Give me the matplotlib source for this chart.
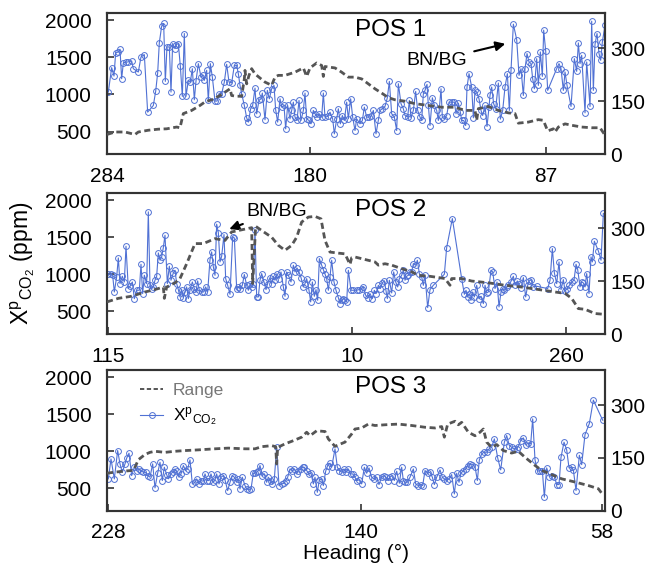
import matplotlib
matplotlib.use('Agg')
import matplotlib.pyplot as plt
from matplotlib.lines import Line2D

plt.rcParams['font.family'] = ['Liberation Sans', 'DejaVu Sans']
plt.rcParams['mathtext.fontset'] = 'custom'
plt.rcParams['mathtext.rm'] = 'Liberation Sans'
plt.rcParams['mathtext.it'] = 'Liberation Sans:italic'

# ---------------- data (along-track sample position, values) ----------------
# POS 1
p1_pos = [10, 20, 27, 32, 40, 45, 50, 55, 63, 68, 80, 85, 100, 108, 118, 128, 145, 152, 158, 163,
          170, 176, 181, 186, 193, 198, 203, 210, 213, 220, 226, 232, 238, 243, 250, 256, 262, 268, 273, 280,
          288, 293, 298, 305, 310, 316, 322, 330, 336, 342, 350, 358, 365, 372, 380, 388, 395, 400, 405, 410,
          418, 425, 430, 437, 443, 450, 455, 462, 468, 472, 480, 487, 493, 500, 507, 512, 518, 525, 530, 537,
          542, 548, 555, 560, 565, 570, 576, 582, 588, 595, 600, 605, 612, 618, 625, 630, 637, 643, 650, 655,
          660, 668, 675, 683, 688, 695, 700, 706, 712, 718, 725, 730, 737, 743, 750,
          755, 765, 772, 778, 785, 792, 798, 805, 813, 820, 825, 832, 840, 847, 853, 860, 868, 875, 880, 888,
          895, 900, 908, 913, 918, 925, 932, 938, 945, 950, 955, 960, 966, 970, 975, 982, 988, 995, 1000, 1008,
          1012, 1018, 1025, 1032, 1040, 1048, 1053, 1060, 1066, 1070, 1076, 1082, 1086, 1092, 1100, 1105, 1110, 1115, 1122, 1128,
          1133, 1140, 1146, 1152, 1155, 1160, 1166, 1172, 1180, 1186, 1193, 1200, 1207, 1213, 1218, 1225, 1235, 1242, 1248, 1255,
          1260, 1266, 1272, 1278, 1283, 1288, 1295, 1300, 1306, 1312, 1316, 1322, 1328, 1355, 1362, 1368, 1375, 1380, 1386, 1398,
          1408, 1415, 1420, 1425, 1430, 1440, 1445, 1455, 1460, 1465, 1470, 1476, 1482, 1487, 1492, 1500]
p1_co2 = [1032, 1361, 1248, 1559, 1572, 1608, 1212, 1424, 1437, 1437, 1451, 1347, 1302, 1505, 1536, 762, 852, 1041, 1289, 1698,
          1919, 1955, 1176, 1640, 1640, 1032, 1685, 1617, 1671, 1685, 1383, 974, 1820, 974, 1190, 1167, 1347, 929, 1181, 1415,
          1235, 1257, 1190, 1325, 920, 1415, 1235, 911, 911, 1010, 1010, 1167, 1406, 1167, 1154, 1392, 1392, 1280, 1122, 1010,
          852, 686, 628, 808, 852, 1086, 740, 920, 942, 1019, 659, 1055, 942, 1077, 1122, 794, 628, 942, 830, 852,
          537, 852, 672, 785, 897, 695, 650, 920, 650, 785, 1019, 672, 650, 605, 785, 740, 695, 740, 695, 1019,
          695, 704, 762, 672, 470, 672, 808, 605, 717, 650, 897, 672, 942, 695, 515,
          672, 605, 650, 830, 695, 695, 704, 785, 470, 650, 785, 808, 839, 956, 1176, 740, 695, 515, 1145, 875,
          808, 717, 695, 920, 686, 785, 1041, 785, 695, 650, 1010, 1055, 1136, 852, 582, 956, 852, 785, 650, 1077,
          695, 672, 717, 897, 897, 897, 740, 884, 762, 650, 650, 582, 1100, 1280, 1100, 686, 1055, 1032, 942, 785,
          717, 852, 569, 830, 987, 1100, 875, 808, 1154, 668, 785, 1100, 1280, 785, 1325, 1946, 1739, 1257, 1347, 987,
          1347, 1550, 1437, 1415, 1212, 1077, 1482, 1122, 1572, 1244, 1865, 1586, 1055, 1347, 1415, 1347, 1055, 1302, 1122, 839,
          1482, 1311, 1694, 1415, 1527, 753, 1437, 839, 1986, 1055, 1676, 1820, 1550, 1460, 1707, 1932]
p1_rng_pos = [6, 30, 60, 90, 100, 130, 160, 185, 215, 225, 235, 260, 285, 300, 320, 345, 375, 380, 395, 410,
              418, 420, 425, 432, 440, 450, 480, 500, 510, 520, 540, 570, 595, 605, 615, 635, 650, 655, 660, 690,
              710, 730, 750, 770, 790, 810, 830, 850, 870, 900, 930, 970, 1010, 1050, 1080, 1110, 1115, 1120, 1150, 1180,
              1210, 1230, 1240, 1270, 1300, 1315, 1328, 1345, 1350, 1360, 1380, 1400, 1430, 1460, 1485, 1500]
p1_rng = [56, 63, 63, 56, 63, 68, 71, 72, 77, 75, 115, 124, 138, 148, 154, 166, 185, 166, 164, 164,
          213, 237, 199, 223, 242, 227, 204, 195, 218, 223, 223, 232, 244, 220, 244, 258, 251, 220, 248, 244,
          232, 218, 218, 213, 199, 185, 173, 160, 154, 150, 143, 138, 133, 133, 124, 124, 96, 129, 135, 124,
          117, 115, 88, 91, 98, 96, 66, 72, 63, 77, 86, 82, 77, 75, 75, 54]

# POS 2
p2_pos = [10, 18, 23, 28, 35, 40, 45, 52, 58, 63, 70, 75, 82, 88, 95, 103, 108, 113, 118, 125,
          130, 135, 140, 145, 150, 155, 160, 165, 170, 175, 180, 187, 193, 198, 205, 210, 215, 220, 225, 230,
          235, 240, 245, 250, 255, 262, 268, 273, 278, 283, 290, 296, 302, 308, 315, 320, 325, 330, 335, 340,
          345, 350, 357, 362, 368, 375, 383, 388, 395, 400, 405, 412, 418, 425, 430, 436, 440, 445, 450, 455,
          460, 465, 470, 477, 483, 488, 495, 500, 505, 510, 516, 522, 528, 535, 540, 545, 550, 558, 565, 570,
          576, 582, 588, 595, 600, 605, 612, 617, 622, 628, 633, 638, 643, 650, 655, 660, 665, 670, 675, 680,
          687, 693, 700, 705, 710, 715, 720, 725, 730, 738, 745,
          755, 762, 770, 775, 782, 788, 795, 802, 808, 813, 820, 826, 832, 838, 843, 847, 853, 860, 866, 872,
          878, 883, 890, 895, 900, 905, 910, 915, 920, 925, 932, 937, 943, 950, 955, 960, 968, 975, 985, 1018,
          1025, 1042, 1070, 1078, 1083, 1088, 1093, 1098, 1103, 1108, 1115, 1122, 1128, 1135, 1140, 1145, 1150, 1158, 1163, 1170,
          1176, 1182, 1188, 1193, 1198, 1205, 1210, 1217, 1225, 1230, 1237, 1242, 1248, 1255, 1262, 1268, 1273, 1278, 1285, 1295,
          1328, 1335, 1342, 1348, 1355, 1362, 1368, 1375, 1380, 1387, 1393, 1400, 1407, 1413, 1418, 1425, 1430, 1435, 1440, 1445,
          1452, 1458, 1462, 1468, 1480, 1488, 1495]
p2_co2 = [1001, 1001, 987, 762, 965, 1221, 875, 974, 897, 1379, 808, 839, 897, 672, 785, 785, 1136, 740, 987, 875,
          1842, 852, 808, 830, 920, 974, 1289, 1190, 1235, 1361, 1527, 875, 1109, 920, 1019, 1055, 875, 794, 695, 794,
          686, 762, 830, 672, 785, 897, 808, 762, 911, 785, 762, 762, 830, 762, 1199, 1302, 1100, 987, 1676, 1563,
          1167, 1244, 1536, 942, 852, 731, 1505, 1491, 808, 830, 808, 852, 997, 852, 785, 875, 830, 875, 1604, 695,
          695, 920, 1010, 897, 794, 875, 956, 875, 974, 920, 1010, 942, 1032, 830, 704, 1032, 987, 897, 1122, 1032,
          1086, 1032, 956, 830, 875, 942, 785, 628, 897, 704, 794, 650, 1212, 1122, 1064, 1001, 942, 785, 965, 1190,
          897, 785, 686, 605, 650, 672, 650, 628, 1055, 785, 785,
          785, 794, 808, 830, 717, 686, 740, 672, 785, 740, 852, 808, 884, 911, 776, 672, 920, 749, 1032, 897,
          830, 942, 987, 1055, 920, 974, 987, 1032, 1032, 1145, 1122, 1190, 1010, 965, 852, 987, 551, 794, 852, 1001,
          1361, 1752, 942, 731, 785, 695, 740, 650, 762, 695, 852, 672, 704, 605, 852, 749, 762, 1055, 1032, 808,
          897, 560, 762, 808, 785, 830, 852, 897, 974, 852, 911, 866, 821, 956, 695, 852, 911, 929, 830, 839,
          808, 920, 1347, 1019, 875, 1167, 794, 929, 776, 808, 852, 897, 920, 1136, 1064, 830, 897, 884, 830, 1010,
          740, 1235, 1167, 1446, 1316, 1190, 1820]
p2_rng_pos = [6, 40, 80, 120, 150, 175, 178, 185, 210, 225, 245, 270, 295, 330, 360, 380, 400, 440, 443, 452,
              470, 500, 520, 540, 560, 575, 590, 610, 630, 648, 660, 675, 700, 720, 735, 740,
              750, 780, 810, 820, 840, 860, 890, 920, 940, 970, 1000, 1020, 1035, 1040, 1070, 1100, 1150, 1200, 1250, 1300,
              1350, 1380, 1400, 1420, 1440, 1470, 1495]
p2_rng = [91, 101, 107, 119, 126, 133, 101, 133, 145, 157, 199, 256, 256, 270, 265, 289, 293, 301, 143, 305,
          293, 274, 251, 237, 251, 274, 317, 331, 333, 326, 265, 232, 229, 227, 197, 216,
          218, 211, 204, 195, 199, 195, 185, 176, 166, 164, 160, 157, 138, 157, 157, 150, 145, 138, 133, 126,
          119, 115, 101, 72, 70, 58, 56]

# POS 3
p3_pos = [10, 18, 28, 38, 45, 52, 60, 65, 72, 80, 88, 95, 102, 108, 115, 122, 128, 135, 143, 150,
          158, 165, 172, 178, 185, 190, 197, 203, 210, 215, 222, 228, 235, 242, 248, 255, 262, 270, 275, 282,
          288, 295, 300, 307, 312, 318, 325, 330, 335, 342, 348, 355, 360, 368, 375, 382, 388, 395, 400, 405,
          412, 420, 425, 432, 438, 445, 450, 455, 460, 465, 472, 478, 485, 490, 497, 502, 508, 515, 522, 530,
          537, 542, 548, 555, 562, 568, 575, 580, 587, 593, 598, 605, 612, 618, 625, 630, 637, 643, 650, 655,
          662, 668, 675, 680, 690, 697, 703, 710, 717, 723, 730, 737, 743, 750,
          755, 762, 770, 778, 785, 792, 800, 807, 815, 822, 830, 837, 843, 850, 855, 860, 868, 875, 883, 890,
          895, 900, 907, 915, 925, 932, 940, 948, 953, 960, 968, 975, 982, 988, 995, 1005, 1012, 1018, 1025, 1032,
          1040, 1048, 1055, 1062, 1068, 1075, 1082, 1088, 1095, 1102, 1110, 1117, 1123, 1130, 1137, 1145, 1152, 1160, 1168, 1178,
          1187, 1198, 1205, 1213, 1220, 1227, 1235, 1240, 1247, 1255, 1263, 1270, 1277, 1283, 1290, 1298, 1305, 1312, 1318, 1325,
          1333, 1340, 1348, 1355, 1362, 1368, 1377, 1385, 1392, 1400, 1405, 1413, 1423, 1430, 1440, 1453, 1465, 1493]
p3_co2 = [628, 897, 628, 1010, 830, 717, 830, 906, 974, 672, 785, 740, 762, 740, 717, 717, 672, 650, 830, 506,
          704, 852, 605, 785, 686, 628, 695, 717, 762, 731, 650, 695, 808, 740, 762, 884, 560, 582, 628, 560,
          605, 596, 695, 605, 605, 695, 582, 614, 695, 560, 650, 672, 614, 470, 582, 672, 650, 582, 628, 492,
          650, 537, 492, 479, 492, 704, 704, 717, 740, 808, 672, 695, 582, 650, 605, 560, 628, 1055, 537, 560,
          569, 605, 650, 762, 740, 762, 695, 740, 762, 785, 785, 740, 695, 704, 560, 650, 447, 614, 628, 537,
          731, 808, 839, 785, 1032, 785, 740, 717, 762, 717, 762, 695, 695, 650,
          605, 614, 560, 785, 704, 776, 650, 628, 650, 551, 650, 672, 650, 605, 650, 672, 605, 731, 569, 785,
          605, 582, 582, 650, 762, 560, 537, 551, 537, 740, 704, 717, 650, 551, 650, 749, 650, 628, 605, 628,
          686, 425, 704, 582, 704, 740, 762, 808, 830, 821, 794, 605, 884, 965, 987, 987, 1032, 1055, 1167, 911,
          749, 1122, 1212, 1077, 1055, 1032, 1032, 1064, 1145, 1181, 1091, 1109, 1100, 1437, 884, 731, 740, 740, 380, 776,
          659, 672, 659, 551, 551, 920, 1122, 1019, 776, 785, 749, 470, 946, 820, 1226, 1374, 1689, 1419]
p3_rng_pos = [6, 30, 60, 85, 90, 100, 120, 135, 150, 180, 210, 240, 280, 330, 370, 420, 450, 470, 500, 512,
              515, 518, 540, 565, 590, 605, 615, 635, 660, 670, 690, 720, 740,
              750, 770, 790, 810, 840, 880, 920, 960, 990, 1010, 1018, 1028, 1050, 1060, 1070, 1090, 1110, 1125, 1135, 1145,
              1160, 1175, 1195, 1220, 1240, 1260, 1290, 1310, 1340, 1370, 1410, 1430, 1450, 1480, 1495]
p3_rng = [107, 110, 113, 115, 124, 145, 160, 166, 169, 166, 169, 171, 173, 176, 178, 176, 176, 182, 185, 182,
          133, 180, 190, 199, 209, 223, 213, 227, 225, 204, 183, 195, 218,
          232, 235, 246, 242, 244, 246, 242, 237, 235, 239, 209, 246, 254, 244, 251, 223, 213, 223, 232, 195,
          180, 188, 171, 164, 169, 152, 129, 115, 103, 91, 82, 77, 72, 63, 44]

# heading tick labels
p1_tick_pos = [6, 615, 1322]
p1_tick_lab = ['284', '180', '87']
p2_tick_pos = [9, 742, 1384]
p2_tick_lab = ['115', '10', '260']
p3_tick_pos = [10, 769, 1490]
p3_tick_lab = ['228', '140', '58']

panel_titles = ['POS 1', 'POS 2', 'POS 3']
co2_ticks = [500, 1000, 1500, 2000]
rng_ticks = [0, 150, 300]

# ---------------- styling ----------------
BLUE = '#5071d4'
GREY = '#555555'
SPINE = '#333333'
TICK_FS = 15

fig = plt.figure(figsize=(6.5, 5.65), dpi=100)
rects = [[0.1646, 0.7269, 0.7662, 0.2506],
         [0.1646, 0.4088, 0.7662, 0.2501],
         [0.1646, 0.0956, 0.7662, 0.2501]]

panels = [(p1_pos, p1_co2, p1_rng_pos, p1_rng, p1_tick_pos, p1_tick_lab),
          (p2_pos, p2_co2, p2_rng_pos, p2_rng, p2_tick_pos, p2_tick_lab),
          (p3_pos, p3_co2, p3_rng_pos, p3_rng, p3_tick_pos, p3_tick_lab)]

axes = []
for i, (pos, co2, rpos, rng, tpos, tlab) in enumerate(panels):
    ax = fig.add_axes(rects[i])
    ax.plot(pos, co2, color=BLUE, lw=0.8, marker='o', ms=4.2, mfc='none',
            mec=BLUE, mew=0.7, zorder=2)
    ax.set_xlim(6, 1500)
    ax.set_ylim(195, 2100)
    ax.set_yticks(co2_ticks)
    ax.set_xticks(tpos)
    ax.set_xticklabels(tlab)
    ax.tick_params(axis='y', direction='in', length=5, width=1.2, labelsize=TICK_FS,
                   pad=11, colors=SPINE, labelcolor='black', right=False)
    ax.tick_params(axis='x', direction='in', length=5, width=1.2, labelsize=TICK_FS,
                   pad=9, colors=SPINE, labelcolor='black', top=False)

    ax2 = ax.twinx()
    ax2.plot(rpos, rng, color=GREY, lw=2.0, ls=(0, (2.2, 1.3)), zorder=3)
    ax2.set_ylim(0, 400)
    ax2.set_yticks(rng_ticks)
    ax2.tick_params(axis='y', direction='in', length=5, width=1.2, labelsize=TICK_FS,
                    pad=4, colors=SPINE, labelcolor='black')
    for a in (ax, ax2):
        for s in a.spines.values():
            s.set_color(SPINE)
            s.set_linewidth(1.5)
    ax.text(0.57, 0.875, panel_titles[i], transform=ax.transAxes, ha='center',
            va='center', fontsize=17.5)
    axes.append(ax)

axes[0].annotate('BN/BG', xy=(1209, 1690), xytext=(996, 1460), fontsize=14,
                 ha='center', va='center',
                 arrowprops=dict(arrowstyle='-|>', color='black', lw=1.5,
                                 mutation_scale=14, shrinkA=3, shrinkB=2))
axes[1].annotate('BN/BG', xy=(365, 1597), xytext=(516, 1850), fontsize=14,
                 ha='center', va='center',
                 arrowprops=dict(arrowstyle='-|>', color='black', lw=1.5,
                                 mutation_scale=14, shrinkA=3, shrinkB=2))

axes[1].set_ylabel(r'X$^{\mathrm{p}}$$_{\mathrm{CO_2}}$ (ppm)', fontsize=16.5, labelpad=6)
axes[2].set_xlabel('Heading (°)', fontsize=15, labelpad=1)

h_rng = Line2D([], [], color=GREY, lw=1.4, ls=(0, (2.2, 1.3)))
h_co2 = Line2D([], [], color=BLUE, lw=0.8, marker='o', ms=4.2, mfc='none', mec=BLUE, mew=0.7)
leg = axes[2].legend([h_rng, h_co2], ['Range', r'X$^{\mathrm{p}}$$_{\mathrm{CO_2}}$'],
                     loc='upper left', bbox_to_anchor=(0.035, 1.02), frameon=False,
                     fontsize=12.5, handlelength=1.35, handletextpad=0.55, labelspacing=0.45)
leg.get_texts()[0].set_color('#777777')

fig.savefig('out.png', dpi=100)
